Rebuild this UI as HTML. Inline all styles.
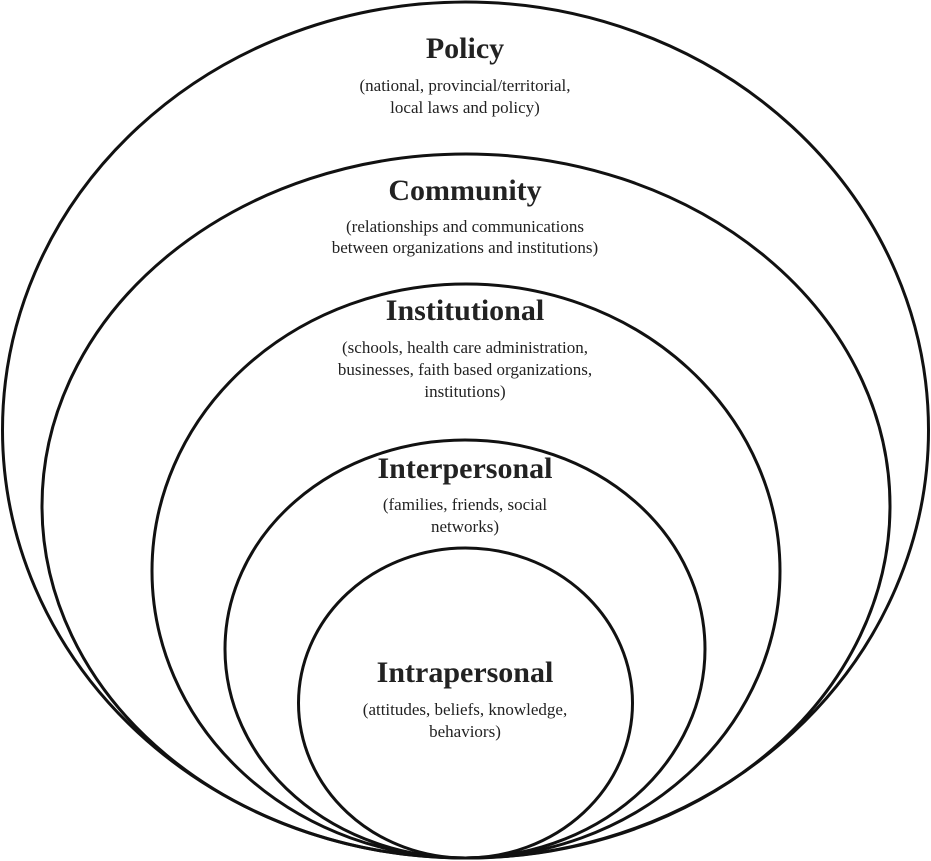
<!DOCTYPE html>
<html><head><meta charset="utf-8"><style>
html,body{margin:0;padding:0;background:#fff;}
svg{display:block;}
text{font-family:"Liberation Serif",serif;fill:#222;text-anchor:middle;}
.t{font-weight:bold;font-size:30px;}
.s{font-size:17px;}
</style></head><body>
<svg width="931" height="861" viewBox="0 0 931 861">
<g fill="none" stroke="#111" stroke-width="3">
<ellipse cx="465.5" cy="430" rx="463" ry="428"/>
<ellipse cx="466" cy="506" rx="424" ry="352"/>
<ellipse cx="466" cy="571" rx="314" ry="287"/>
<ellipse cx="465" cy="649" rx="240" ry="209"/>
<ellipse cx="465.5" cy="703" rx="167" ry="155"/>
</g>
<text class="t" x="465" y="58">Policy</text>
<text class="s" x="465" y="91">(national, provincial/territorial,</text>
<text class="s" x="465" y="113">local laws and policy)</text>
<text class="t" x="465" y="200">Community</text>
<text class="s" x="465" y="232">(relationships and communications</text>
<text class="s" x="465" y="253">between organizations and institutions)</text>
<text class="t" x="465" y="320">Institutional</text>
<text class="s" x="465" y="353">(schools, health care administration,</text>
<text class="s" x="465" y="375">businesses, faith based organizations,</text>
<text class="s" x="465" y="397">institutions)</text>
<text class="t" x="465" y="478">Interpersonal</text>
<text class="s" x="465" y="510">(families, friends, social</text>
<text class="s" x="465" y="532">networks)</text>
<text class="t" x="465" y="682">Intrapersonal</text>
<text class="s" x="465" y="715">(attitudes, beliefs, knowledge,</text>
<text class="s" x="465" y="737">behaviors)</text>
</svg>
</body></html>
